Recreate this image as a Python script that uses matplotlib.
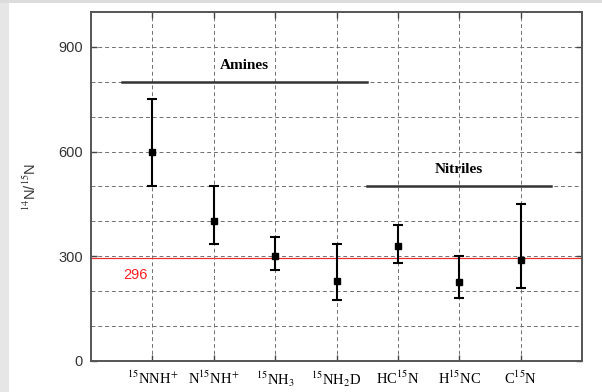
import matplotlib
matplotlib.use("Agg")
import matplotlib.pyplot as plt
from matplotlib.patches import Rectangle

plt.rcParams['mathtext.fontset'] = 'stix'

# data
species = [r'$^{15}$NNH$^{+}$', r'N$^{15}$NH$^{+}$', r'$^{15}$NH$_{3}$',
           r'$^{15}$NH$_{2}$D', r'HC$^{15}$N', r'H$^{15}$NC', r'C$^{15}$N']
ratio = [600, 400, 300, 230, 330, 225, 290]
err_low = [500, 335, 260, 175, 280, 180, 210]
err_high = [750, 500, 355, 335, 390, 300, 450]
solar = 296
groups = ['Amines', 'Nitriles']
group_span = [(0.5, 4.5), (4.5, 7.5)]
group_level = [800, 500]

x = list(range(1, len(species) + 1))
yerr = [[r - lo for r, lo in zip(ratio, err_low)],
        [hi - r for r, hi in zip(ratio, err_high)]]

fig = plt.figure(figsize=(6.02, 3.92), dpi=100)
fig.patch.set_facecolor('white')
# grey border of the slide
fig.patches.append(Rectangle((0, 0), 9/602, 1, transform=fig.transFigure,
                             facecolor='#e6e6e6', edgecolor='none', zorder=0))
fig.patches.append(Rectangle((0, 1 - 3/392), 1, 3/392, transform=fig.transFigure,
                             facecolor='#dcdcdc', edgecolor='none', zorder=0))

ax = fig.add_axes([91/602, 1 - 361/392, 491/602, 349/392])
ax.set_xlim(0, 8)
ax.set_ylim(0, 1000)

# grid
for xi in x:
    ax.axvline(xi, color='#707070', lw=0.7, ls=(0, (4, 3)), zorder=1)
for yi in range(100, 1000, 100):
    ax.axhline(yi, color='#707070', lw=0.7, ls=(0, (4, 3)), zorder=1)

ax.axhline(solar, color='#e83030', lw=0.9, zorder=2)
ax.text(0.73, 247, str(solar), color='#ff2020', ha='center', va='center',
        fontsize=10.5, family='Liberation Sans')

ax.errorbar(x, ratio, yerr=yerr, fmt='s', color='black', ms=4,
            elinewidth=1.5, capsize=3.5, capthick=1.5, zorder=3)

for name, (x0, x1), lev in zip(groups, group_span, group_level):
    ax.plot([x0, x1], [lev, lev], color='#333333', lw=1.8, zorder=3)
    ax.text((x0 + x1) / 2, lev + 48, name, ha='center', va='center',
            fontsize=11, fontweight='bold', family='Liberation Serif')

ax.set_xticks(x)
ax.set_xticklabels(species, fontsize=10.5, family='Liberation Serif')
ax.set_yticks([0, 300, 600, 900])
ax.set_yticklabels(['0', '300', '600', '900'], fontsize=10.5,
                   family='Liberation Sans', color='#333333')
ax.set_ylabel(r'$^{14}$N/$^{15}$N', fontsize=10.5, family='Liberation Sans',
              color='#333333', labelpad=14)
ax.tick_params(direction='in', length=4, top=True, right=True, width=1,
               color='#444444', pad=6)
for s in ax.spines.values():
    s.set_color('#555555')
    s.set_linewidth(1.4)

fig.savefig('out.png', dpi=100)
